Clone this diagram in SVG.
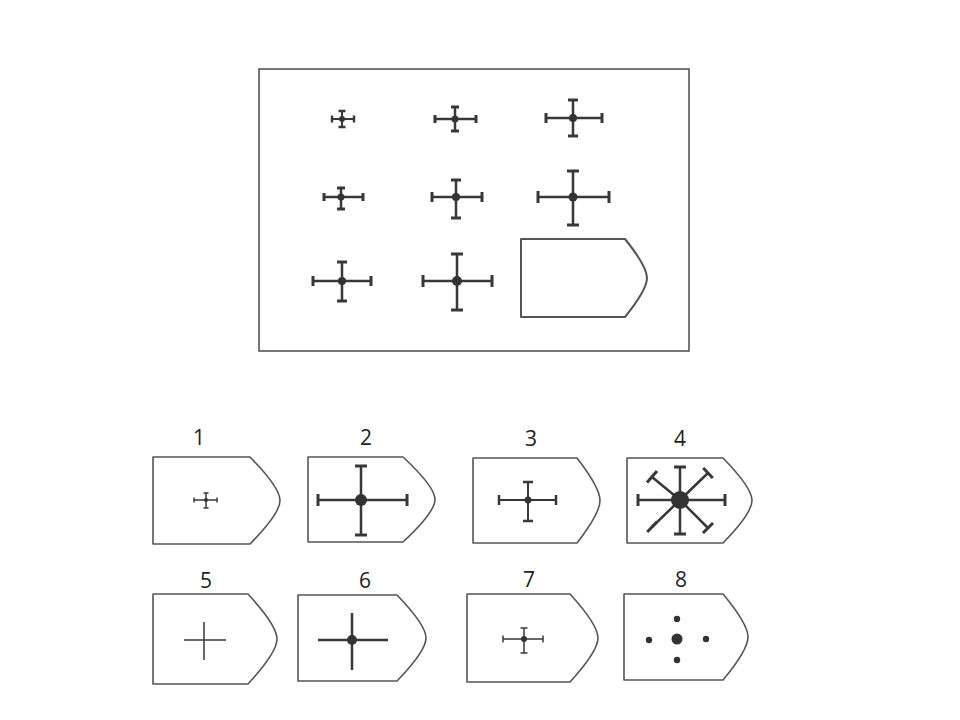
<svg xmlns="http://www.w3.org/2000/svg" width="960" height="720" viewBox="0 0 960 720">
<style>
.frame{fill:none;stroke:#4a4a4a;stroke-width:1.5}
.card{fill:#fff;stroke:#555;stroke-width:1.6;stroke-linejoin:round}
.arm{fill:none;stroke:#383838;stroke-width:2.5;stroke-linecap:butt}
.bar{fill:none;stroke:#383838;stroke-width:3}
.thin{stroke-width:1.5}
.dot{fill:#333}
.lbl{font-family:"Open Sans","Liberation Sans",sans-serif;font-size:21px;fill:#222;text-anchor:middle}
</style>
<rect width="960" height="720" fill="#fff"/>
<g id="matrix">
<rect class="frame" x="259" y="69" width="430" height="282"/>
<g id="m11"><path class="arm" d="M332,119H354M342,111V127" style="stroke-width:2"/><path class="bar" d="M332,115.5v7M354,115.5v7M338.5,111h7M338.5,127h7" style="stroke-width:2.4"/><circle class="dot" cx="342" cy="119" r="3"/></g>
<g id="m12"><path class="arm" d="M435,119H476M455,107V131"/><path class="bar" d="M435,115v8M476,115v8M451,107h8M451,131h8"/><circle class="dot" cx="455" cy="119" r="3.5"/></g>
<g id="m13"><path class="arm" d="M546,118H602M573,100V136"/><path class="bar" d="M546,113v10M602,113v10M568,100h10M568,136h10"/><circle class="dot" cx="573" cy="118" r="4"/></g>
<g id="m21"><path class="arm" d="M324,197H363M341,188V209"/><path class="bar" d="M324,193v8M363,193v8M337,188h8M337,209h8"/><circle class="dot" cx="341" cy="197" r="3.5"/></g>
<g id="m22"><path class="arm" d="M432,197H482M456,180V218"/><path class="bar" d="M432,192v10M482,192v10M451,180h10M451,218h10"/><circle class="dot" cx="456" cy="197" r="4"/></g>
<g id="m23"><path class="arm" d="M538,197H609M573,171V225"/><path class="bar" d="M538,191v12M609,191v12M567,171h12M567,225h12"/><circle class="dot" cx="573" cy="197" r="4.5"/></g>
<g id="m31"><path class="arm" d="M313,281H371M342,262V301"/><path class="bar" d="M313,276v10M371,276v10M337,262h10M337,301h10"/><circle class="dot" cx="342" cy="281" r="4"/></g>
<g id="m32"><path class="arm" d="M423,281H492M457,254V310"/><path class="bar" d="M423,275v12M492,275v12M451,254h12M451,310h12"/><circle class="dot" cx="457" cy="281" r="5"/></g>
<g id="m33"><path class="card" d="M521,239H625Q647,266.3 647,278Q647,289.7 625,317H521Z" style="stroke-width:2"/></g>
</g>
<g id="opt1"><text class="lbl" x="199" y="445">1</text>
<path class="card" d="M153,457H250Q280,487.5 280,500.5Q280,513.5 250,544H153Z"/>
<path class="arm thin" d="M194,500H217M206,493V508"/><path class="bar thin" d="M194,497.5v5M217,497.5v5M203.5,493h5M203.5,508h5"/><circle class="dot" cx="206" cy="500" r="2"/></g>
<g id="opt2"><text class="lbl" x="366" y="445">2</text>
<path class="card" d="M308,457H403Q435,486.75 435,499.5Q435,512.25 403,542H308Z"/>
<path class="arm" d="M318,500H407M361,466V535"/><path class="bar" d="M318,494v12M407,494v12M355,466h12M355,535h12"/><circle class="dot" cx="361" cy="500" r="6"/></g>
<g id="opt3"><text class="lbl" x="531" y="446">3</text>
<path class="card" d="M473,458H577Q600,487.75 600,500.5Q600,513.25 577,543H473Z"/>
<path class="arm" d="M499,500H556M528,482V521" style="stroke-width:2"/><path class="bar" d="M499,495v10M556,495v10M523,482h10M523,521h10" style="stroke-width:2.5"/><circle class="dot" cx="528" cy="500" r="3.5"/></g>
<g id="opt4"><text class="lbl" x="680" y="446">4</text>
<path class="card" d="M627,458H723Q752,487.75 752,500.5Q752,513.25 723,543H627Z"/>
<path class="arm" d="M638,500H725M680,467V534M680,500L652,477M680,500L708,473M680,500L652,527M680,500L708,528"/>
<path class="bar" d="M638,494v12M725,494v12M674,467h12M674,534h12M647,482.4L657,471M703.2,468L712.8,478M647.2,532L656.8,522M703,533L713,523"/>
<circle class="dot" cx="680" cy="500" r="9"/></g>
<g id="opt5"><text class="lbl" x="206" y="588">5</text>
<path class="card" d="M153,594H248Q277,625.5 277,639Q277,652.5 248,684H153Z"/>
<path class="arm thin" d="M184,640H226M204,622V660"/></g>
<g id="opt6"><text class="lbl" x="365" y="588">6</text>
<path class="card" d="M298,595H397Q426,625 426,638Q426,651 397,681H298Z"/>
<path class="arm" d="M318,640H388M352,613V670"/><circle class="dot" cx="352" cy="640" r="5"/></g>
<g id="opt7"><text class="lbl" x="529" y="587">7</text>
<path class="card" d="M467,594H570Q598,624.8 598,638Q598,651.2 570,682H467Z"/>
<path class="arm thin" d="M503,639H543M524,628V653"/><path class="bar thin" d="M503,635.5v7M543,635.5v7M520.5,628h7M520.5,653h7"/><circle class="dot" cx="524" cy="639" r="3"/></g>
<g id="opt8"><text class="lbl" x="681" y="587">8</text>
<path class="card" d="M624,594H723Q748,624 748,637Q748,650 723,680H624Z"/>
<circle class="dot" cx="677" cy="639" r="5.5"/><circle class="dot" cx="677" cy="619" r="3.2"/><circle class="dot" cx="677" cy="660" r="3.2"/><circle class="dot" cx="649" cy="640" r="3.2"/><circle class="dot" cx="706" cy="639" r="3.2"/></g>
</svg>
